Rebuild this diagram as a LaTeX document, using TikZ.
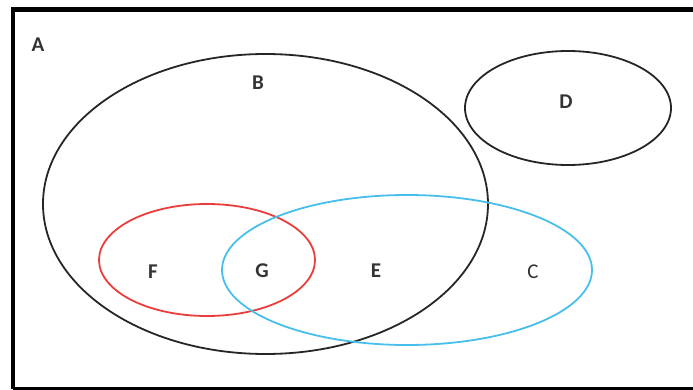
\documentclass[tikz,border=0pt]{standalone}
\usepackage{fontspec}
\setmainfont{Carlito}
\definecolor{skyline}{RGB}{72,190,236}
\definecolor{redline}{RGB}{236,60,60}
\begin{document}
\begin{tikzpicture}[x=1pt,y=-1pt,
  set/.style={line width=1.8pt},
  lbl/.style={font=\fontsize{21}{23}\selectfont\bfseries, text=black!80},
  lblr/.style={font=\fontsize{21}{23}\selectfont, text=black!80}]
\useasboundingbox (0,0) rectangle (693,390);
% universe frame (its right side runs off the page)
\draw[line width=4.5pt] (13,388.5) -- (13,9.5) -- (705,9.5);
\draw[line width=3pt] (13,388.5) -- (705,388.5);
% sets
\draw[set, black!85] (265.5,204) ellipse [x radius=222.5, y radius=150];
\draw[set, black!85] (568,108) ellipse [x radius=103, y radius=57];
\draw[set, redline] (207,260) ellipse [x radius=108, y radius=56];
\draw[set, skyline] (407,270) ellipse [x radius=185, y radius=75];
% labels
\node[lbl] (a) at (38,45) {A};
\node[lbl] (b) at (258,83) {B};
\node[lbl] (d) at (566,102) {D};
\node[lbl] (f) at (153,272) {F};
\node[lbl] (g) at (262,271) {G};
\node[lbl] (e) at (376,271) {E};
\node[lblr] (c) at (533,272) {C};
\end{tikzpicture}
\end{document}
